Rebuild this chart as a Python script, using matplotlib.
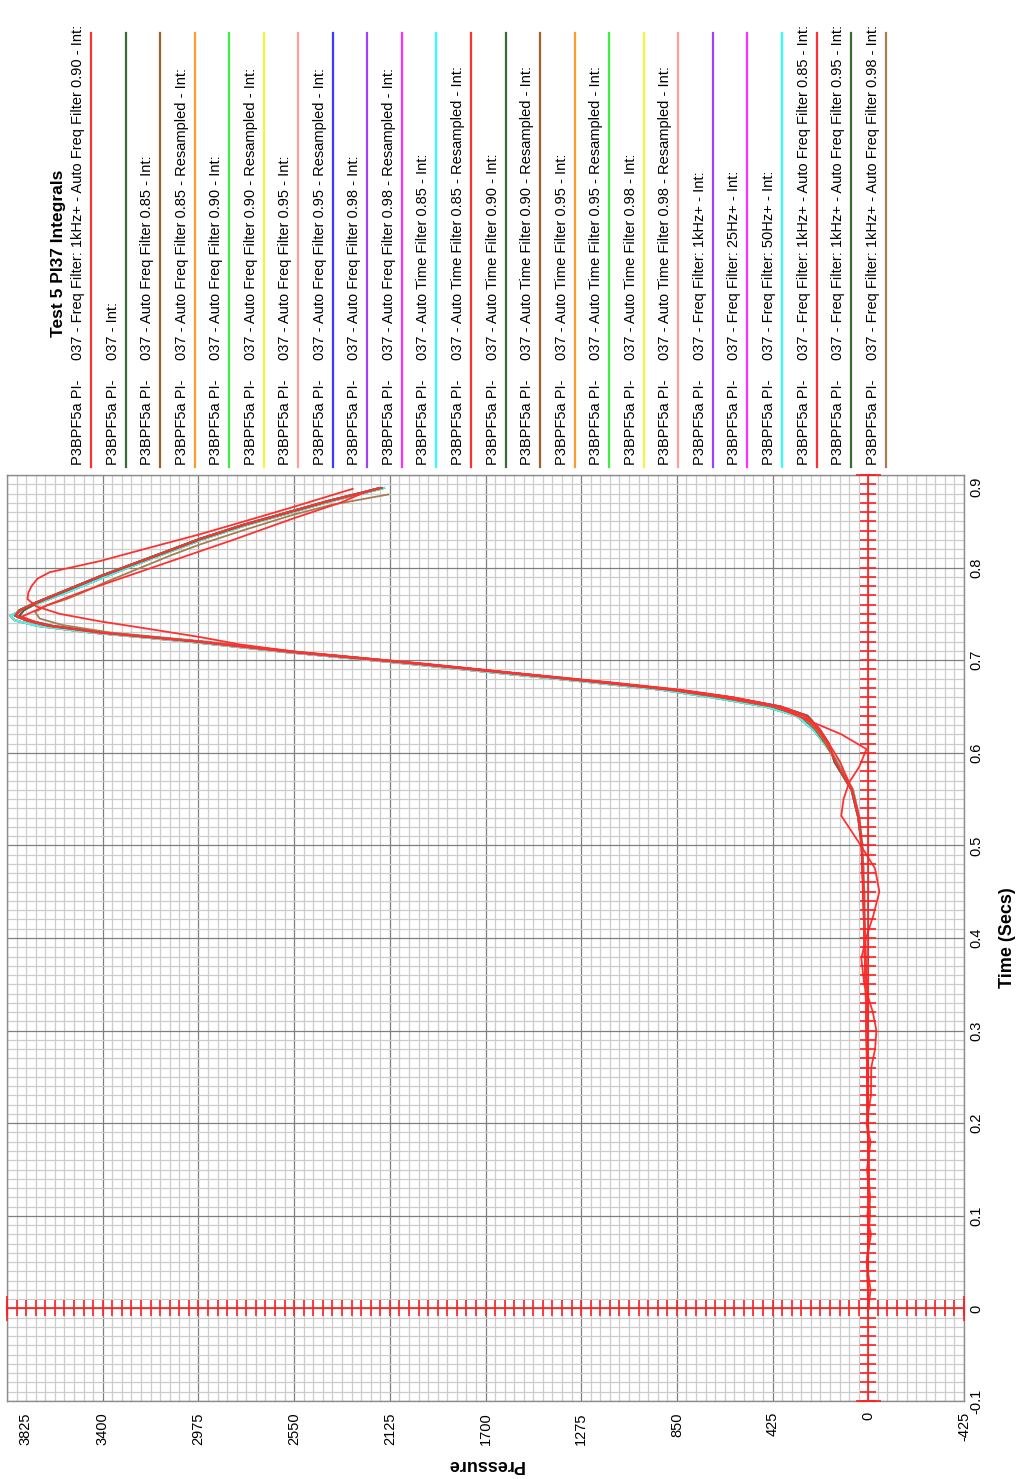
import matplotlib
matplotlib.use("Agg")
import matplotlib.pyplot as plt
from matplotlib.ticker import MultipleLocator
from matplotlib.transforms import ScaledTranslation
import numpy as np

plt.rcParams['font.family'] = ['Liberation Sans', 'DejaVu Sans']

# Pressure traces (time in secs, pressure)
t_main = [0.0, 0.05, 0.1, 0.15, 0.2, 0.25, 0.3, 0.35, 0.4, 0.45, 0.5, 0.53, 0.56, 0.59, 0.61,
          0.625, 0.64, 0.65, 0.66, 0.668, 0.676, 0.686, 0.696, 0.709, 0.72, 0.73, 0.737, 0.743,
          0.748, 0.754, 0.762, 0.775, 0.791, 0.81, 0.831, 0.846, 0.861, 0.872, 0.881, 0.886]
p_main_a = [0, 3, -4, -2, 2, 4, 6, 10, 16, 20, 28, 42, 70, 140, 190,
            235, 300, 430, 660, 880, 1190, 1590, 1990, 2555, 2970, 3410, 3640, 3740,
            3790, 3770, 3700, 3570, 3410, 3200, 2970, 2780, 2560, 2400, 2250, 2170]
p_main_b = [0, 2, -3, -1, 3, 5, 8, 12, 18, 22, 30, 45, 75, 150, 175,
            215, 270, 390, 610, 850, 1160, 1570, 1980, 2545, 2960, 3400, 3620, 3730,
            3770, 3750, 3690, 3560, 3400, 3190, 2960, 2770, 2550, 2390, 2240, 2160]
p_main_c = [0, 4, -5, -3, 1, 3, 5, 9, 14, 18, 26, 40, 68, 135, 195,
            245, 320, 460, 700, 920, 1230, 1640, 2040, 2600, 3020, 3460, 3690, 3790,
            3810, 3760, 3680, 3540, 3380, 3180, 2950, 2760, 2540, 2380, 2230, 2150]

t_red_a = [0.0, 0.05, 0.1, 0.15, 0.2, 0.25, 0.3, 0.35, 0.4, 0.45, 0.5, 0.53, 0.56, 0.59, 0.61,
           0.625, 0.64, 0.65, 0.66, 0.668, 0.676, 0.686, 0.696, 0.709, 0.717, 0.725, 0.734, 0.742,
           0.75, 0.758, 0.766, 0.773, 0.78, 0.788, 0.795, 0.807, 0.821, 0.836, 0.85, 0.865, 0.881, 0.885]
p_red_a = [0, 4, -6, -2, 3, 2, 8, 9, 15, 24, 30, 40, 72, 125, 175,
           215, 275, 390, 600, 830, 1140, 1560, 1960, 2540, 2790, 2968, 3200, 3413,
           3590, 3694, 3734, 3730, 3716, 3690, 3636, 3413, 3200, 2968, 2770, 2560, 2345, 2290]

t_red_b = [0.0, 0.05, 0.1, 0.15, 0.2, 0.25, 0.3, 0.35, 0.4, 0.45, 0.5, 0.53, 0.56, 0.59, 0.61,
           0.625, 0.64, 0.65, 0.66, 0.668, 0.676, 0.686, 0.696, 0.709, 0.72, 0.73, 0.738, 0.747,
           0.76, 0.775, 0.79, 0.81, 0.83, 0.853, 0.87, 0.882]
p_red_b = [0, 2, -4, 0, 2, 6, 7, 12, 17, 21, 29, 44, 74, 145, 180,
           225, 285, 410, 640, 860, 1180, 1600, 2010, 2580, 2990, 3430, 3660, 3760,
           3640, 3480, 3300, 3060, 2820, 2555, 2345, 2230]

t_red_c = [0.0, 0.02, 0.05, 0.08, 0.1, 0.12, 0.15, 0.18, 0.2, 0.23, 0.26, 0.28, 0.3, 0.32,
           0.35, 0.378, 0.4, 0.424, 0.45, 0.475, 0.504, 0.532, 0.55, 0.568, 0.585, 0.604, 0.62,
           0.635, 0.65, 0.66, 0.668, 0.676, 0.686, 0.696, 0.709, 0.72, 0.73, 0.737, 0.743,
           0.748, 0.754, 0.762, 0.775, 0.791, 0.81, 0.831, 0.846, 0.861, 0.872, 0.881, 0.886]
p_red_c = [0, -10, 8, -12, 5, -8, 6, -10, 8, -12, -13, -30, -36, -20,
           18, 31, 10, -22, -49, -30, 44, 120, 110, 85, 40, 8, 120,
           267, 410, 640, 870, 1180, 1580, 1985, 2550, 2965, 3405, 3635, 3735,
           3785, 3765, 3695, 3565, 3405, 3195, 2965, 2775, 2555, 2395, 2245, 2165]

t_tan = [0.0, 0.05, 0.1, 0.15, 0.2, 0.25, 0.3, 0.35, 0.4, 0.45, 0.5, 0.53, 0.56, 0.59, 0.61,
         0.625, 0.64, 0.65, 0.66, 0.668, 0.676, 0.686, 0.696, 0.709, 0.72, 0.73, 0.738, 0.745,
         0.752, 0.759, 0.766, 0.773, 0.785, 0.8, 0.813, 0.825, 0.84, 0.857, 0.868, 0.879]
p_tan = [0, 2, -3, -1, 2, 4, 7, 11, 17, 21, 29, 43, 72, 140, 185,
         230, 295, 420, 645, 865, 1170, 1570, 1970, 2530, 2940, 3370, 3580, 3680,
         3700, 3650, 3560, 3490, 3380, 3230, 3100, 2968, 2780, 2555, 2380, 2131]

traces = {
    'main_a': (t_main, p_main_a),
    'main_b': (t_main, p_main_b),
    'main_c': (t_main, p_main_c),
    'red_a': (t_red_a, p_red_a),
    'red_b': (t_red_b, p_red_b),
    'red_c': (t_red_c, p_red_c),
    'tan': (t_tan, p_tan),
}

prefix = "P3BPF5a PI-"
series_names = [
    "037 - Freq Filter: 1kHz+ - Auto Freq Filter 0.90 - Int:",
    "037 - Int:",
    "037 - Auto Freq Filter 0.85 - Int:",
    "037 - Auto Freq Filter 0.85 - Resampled - Int:",
    "037 - Auto Freq Filter 0.90 - Int:",
    "037 - Auto Freq Filter 0.90 - Resampled - Int:",
    "037 - Auto Freq Filter 0.95 - Int:",
    "037 - Auto Freq Filter 0.95 - Resampled - Int:",
    "037 - Auto Freq Filter 0.98 - Int:",
    "037 - Auto Freq Filter 0.98 - Resampled - Int:",
    "037 - Auto Time Filter 0.85 - Int:",
    "037 - Auto Time Filter 0.85 - Resampled - Int:",
    "037 - Auto Time Filter 0.90 - Int:",
    "037 - Auto Time Filter 0.90 - Resampled - Int:",
    "037 - Auto Time Filter 0.95 - Int:",
    "037 - Auto Time Filter 0.95 - Resampled - Int:",
    "037 - Auto Time Filter 0.98 - Int:",
    "037 - Auto Time Filter 0.98 - Resampled - Int:",
    "037 - Freq Filter: 1kHz+ - Int:",
    "037 - Freq Filter: 25Hz+ - Int:",
    "037 - Freq Filter: 50Hz+ - Int:",
    "037 - Freq Filter: 1kHz+ - Auto Freq Filter 0.85 - Int:",
    "037 - Freq Filter: 1kHz+ - Auto Freq Filter 0.95 - Int:",
    "037 - Freq Filter: 1kHz+ - Auto Freq Filter 0.98 - Int:",
]
series_trace = ['red_a', 'main_a', 'main_a', 'main_b', 'main_b', 'main_c', 'main_c', 'main_a',
                'main_b', 'main_c', 'main_b', 'red_c', 'main_c', 'main_a', 'main_c', 'main_a',
                'main_b', 'main_c', 'main_a', 'main_b', 'main_c', 'red_b', 'main_b', 'tan']
series_colors = ['#ff3030', '#3a6b35', '#a0622d', '#ff9a2e', '#3cf03c', '#f5f53a', '#ff9e9e',
                 '#3a3aff', '#a040ff', '#ff30ff', '#30ffff', '#ff3030', '#3a6b35', '#a0622d',
                 '#ff9a2e', '#3cf03c', '#f5f53a', '#ff9e9e', '#a040ff', '#ff30ff', '#30ffff',
                 '#ff3030', '#3a6b35', '#a67d52']

pressure_ticks = [3825, 3400, 2975, 2550, 2125, 1700, 1275, 850, 425, 0, -425]
time_ticks = [-0.1, 0, 0.1, 0.2, 0.3, 0.4, 0.5, 0.6, 0.7, 0.8, 0.9]

W, H = 1019, 1479
fig = plt.figure(figsize=(W / 100, H / 100), dpi=100)
ax = fig.add_axes([7 / W, 78 / H, 957 / W, 926 / H])

ax.set_xlim(3825, -425)
ax.set_ylim(-0.1, 0.9)
ax.set_xticks(pressure_ticks)
ax.set_xticklabels([str(v) for v in pressure_ticks], rotation=90, fontsize=10.5)
ax.set_yticks(time_ticks)
ax.set_yticklabels([f"{v:g}" for v in time_ticks], rotation=90, fontsize=10.5, va='center')
ax.xaxis.set_minor_locator(MultipleLocator(42.5))
ax.yaxis.set_minor_locator(MultipleLocator(0.01))
ax.yaxis.tick_right()
ax.tick_params(which='both', length=0)
ax.tick_params(axis='x', pad=8)
ax.tick_params(axis='y', pad=4)
ax.grid(which='minor', color='#cccccc', lw=0.9)
ax.grid(which='major', color='#7f7f7f', lw=0.9)
ax.set_axisbelow(True)
for s in ax.spines.values():
    s.set_color('#8c8c8c')
    s.set_linewidth(1.0)

# end labels pulled inside the frame
lab = ax.get_xticklabels()[0]
lab.set_transform(lab.get_transform() + ScaledTranslation(0.18, 0, fig.dpi_scale_trans))
lab = ax.get_yticklabels()[-1]
lab.set_transform(lab.get_transform() + ScaledTranslation(0, -0.12, fig.dpi_scale_trans))

ax.set_xlabel("Pressure", fontsize=13, fontweight='bold', rotation=180)
ax.xaxis.set_label_coords(0.5, -(1465 - 1401) / 926)
ax.xaxis.label.set_va('center')
ax.yaxis.set_label_position('right')
ax.set_ylabel("Time (Secs)", fontsize=13, fontweight='bold', rotation=90)
ax.yaxis.set_label_coords((1008 - 7) / 957, 0.5)
ax.yaxis.label.set_va('center')
ax.yaxis.label.set_ha('center')

# curves; reds and browns sit on top of the bundle
for key, col in zip(series_trace, series_colors):
    t, p = traces[key]
    if key.startswith('red'):
        z = 4.2
    elif col in ('#a0622d', '#a67d52'):
        z = 4
    else:
        z = 3
    ax.plot(p, t, color=col, lw=1.3, zorder=z)

# cursor cross at t=0, p=0
cur = '#ff2020'
ax.axvline(0, color=cur, lw=1.2, zorder=5)
ax.axhline(0, color=cur, lw=1.2, zorder=5)
tt = np.arange(-0.1, 0.9001, 0.01)
ax.plot(np.zeros_like(tt), tt, ls='none', marker='_', ms=12, mew=1.2, color=cur, zorder=5, clip_on=False)
pp = np.arange(-425, 3825.1, 42.5)
ax.plot(pp, np.zeros_like(pp), ls='none', marker='|', ms=11, mew=1.2, color=cur, zorder=5, clip_on=False)
ax.plot([0, 0], [-0.1, 0.9], ls='none', marker='_', ms=18, mew=1.2, color=cur, zorder=5, clip_on=False)
ax.plot([-425, 3825], [0, 0], ls='none', marker='|', ms=18, mew=1.2, color=cur, zorder=5, clip_on=False)

# legend block (rotated)
lg = fig.add_axes([0, 0, 1, 1])
lg.set_xlim(0, W)
lg.set_ylim(H, 0)
lg.axis('off')
lg.text(63, 337, "Test 5 PI37 Integrals", rotation=90, rotation_mode='anchor',
        ha='left', va='baseline', fontsize=12.5, fontweight='bold')
step = 34.55
for i, (name, col) in enumerate(zip(series_names, series_colors)):
    xl = 91 + step * i
    lg.text(xl - 9, 465, prefix, rotation=90, rotation_mode='anchor',
            ha='left', va='baseline', fontsize=10.5)
    lg.text(xl - 9, 360, name, rotation=90, rotation_mode='anchor',
            ha='left', va='baseline', fontsize=10.5)
    lg.plot([xl, xl], [33, 467], color=col, lw=1.6)

fig.savefig("out.png", dpi=100)
